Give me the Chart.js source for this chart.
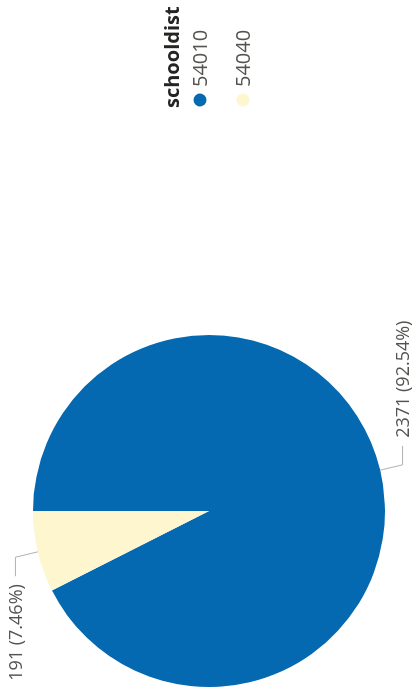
<!DOCTYPE html>
<html>
<head>
<meta charset="utf-8">
<script src="https://cdn.jsdelivr.net/npm/chart.js@4.4.1/dist/chart.umd.min.js"></script>
<style>
  html, body { margin: 0; padding: 0; background: #fff; overflow: hidden; }
  body { width: 420px; height: 698px; position: relative; }
  /* chart is laid out landscape, then turned a quarter left like the reference */
  #wrap {
    position: absolute; left: 0; top: 0;
    width: 698px; height: 420px;
    transform-origin: 0 0;
    transform: translate(0, 698px) rotate(-90deg);
  }
</style>
</head>
<body>
<div id="wrap"><canvas id="pie" width="698" height="420"></canvas></div>
<script>
  // data
  const legendTitle = "schooldist";
  const districts = ["54010", "54040"];
  const counts = [2371, 191];
  const sliceColors = ["#0569B1", "#FDF6CF"];

  const total = counts.reduce((a, b) => a + b, 0);

  // leader lines + "value (pct%)" labels outside each slice
  const outsideLabels = {
    id: 'outsideLabels',
    afterDatasetsDraw(chart) {
      const ctx = chart.ctx;
      const meta = chart.getDatasetMeta(0);
      ctx.save();
      meta.data.forEach((arc, i) => {
        const p = arc.getProps(['x', 'y', 'startAngle', 'endAngle', 'outerRadius'], true);
        const mid = (p.startAngle + p.endAngle) / 2;
        const c = Math.cos(mid), s = Math.sin(mid);
        const x0 = p.x + p.outerRadius * c, y0 = p.y + p.outerRadius * s;
        const x1 = p.x + (p.outerRadius + 23) * c, y1 = p.y + (p.outerRadius + 23) * s;
        const dir = c >= 0 ? 1 : -1;
        const x2 = x1 + dir * 19;
        ctx.strokeStyle = '#B3B0AD';
        ctx.lineWidth = 1;
        ctx.beginPath();
        ctx.moveTo(x0, y0);
        ctx.lineTo(x1, y1);
        ctx.lineTo(x2, y1);
        ctx.stroke();
        const pct = (counts[i] / total * 100).toFixed(2);
        ctx.fillStyle = '#555350';
        ctx.font = '18px "Open Sans"';
        ctx.textBaseline = 'middle';
        ctx.textAlign = dir > 0 ? 'left' : 'right';
        ctx.fillText(counts[i] + ' (' + pct + '%)', x2 + dir * 8, y1 + 1);
      });
      ctx.restore();
    }
  };

  // legend with title, dots and district codes
  const sideLegend = {
    id: 'sideLegend',
    afterDraw(chart) {
      const ctx = chart.ctx;
      ctx.save();
      ctx.textBaseline = 'middle';
      ctx.textAlign = 'left';
      ctx.fillStyle = '#252423';
      ctx.font = 'bold 20px "Open Sans"';
      ctx.fillText(legendTitle, 590, 173);
      chart.data.labels.forEach((lab, i) => {
        const y = 200 + i * 43;
        ctx.fillStyle = chart.data.datasets[0].backgroundColor[i];
        ctx.beginPath();
        ctx.arc(598, y, 6.5, 0, Math.PI * 2);
        ctx.fill();
        ctx.fillStyle = '#555350';
        ctx.font = '20px "Open Sans"';
        ctx.fillText(lab, 611, y + 1);
      });
      ctx.restore();
    }
  };

  new Chart(document.getElementById('pie'), {
    type: 'pie',
    data: {
      labels: districts,
      datasets: [{
        data: counts,
        backgroundColor: sliceColors,
        borderWidth: 0
      }]
    },
    options: {
      responsive: false,
      animation: false,
      devicePixelRatio: 1,
      layout: { padding: { left: 10, top: 33, bottom: 35, right: 334 } },
      plugins: {
        legend: { display: false },
        tooltip: { enabled: false }
      }
    },
    plugins: [outsideLabels, sideLegend]
  });
</script>
</body>
</html>
